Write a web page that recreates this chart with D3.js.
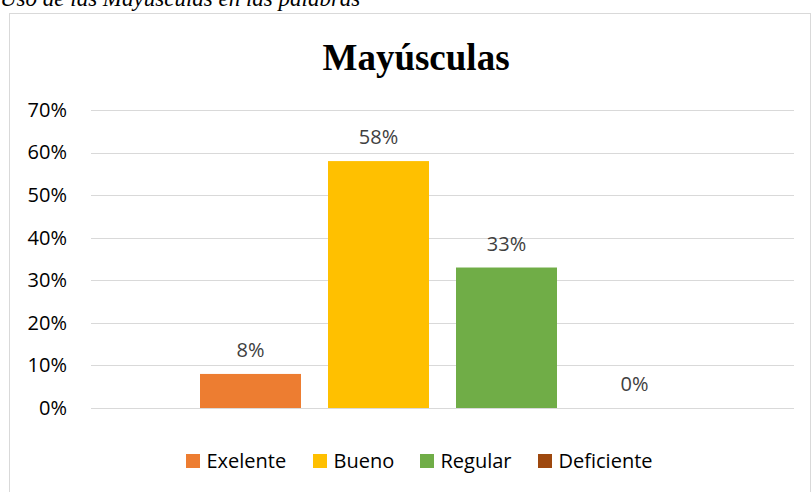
<!DOCTYPE html>
<html><head><meta charset="utf-8">
<script src="https://cdn.jsdelivr.net/npm/d3@7"></script>
<style>body{margin:0;background:#fff;}svg{display:block;}</style>
</head><body>
<script>
const categories = ["Mayúsculas"];
const series = ["Exelente", "Bueno", "Regular", "Deficiente"];
const values = [0.08, 0.58, 0.33, 0.00];
const colors = ["#ED7D31", "#FFC000", "#70AD47", "#9E480E"];
const yTicks = [0, 0.1, 0.2, 0.3, 0.4, 0.5, 0.6, 0.7];
const title = "Mayúsculas";
const caption = "Uso de las Mayúsculas en las palabras";

const W = 811, H = 492;
const svg = d3.select("body").append("svg").attr("width", W).attr("height", H);

svg.append("text").attr("x", 0).attr("y", 6)
  .attr("font-family", "Liberation Serif").attr("font-style", "italic")
  .attr("font-size", 23).attr("fill", "#000").text(caption);

svg.append("rect").attr("x", 9.5).attr("y", 13.5).attr("width", 801).attr("height", 480)
  .attr("fill", "#fff").attr("stroke", "#d9d9d9");

svg.append("text").attr("x", 416).attr("y", 70).attr("text-anchor", "middle")
  .attr("font-family", "Liberation Serif").attr("font-weight", "bold")
  .attr("font-size", 37).attr("fill", "#000").text(title);

const x0 = d3.scaleBand().domain(categories).range([91, 794]).paddingInner(0).paddingOuter(0);
const y = d3.scaleLinear().domain([0, 0.7]).range([408, 110]);
const groupPad = (703 - 485) / 2;
const x1 = d3.scaleBand().domain(series)
  .range([x0(categories[0]) + groupPad, x0(categories[0]) + x0.bandwidth() - groupPad])
  .paddingInner(27 / 128).paddingOuter(0);

const fontSans = "'Open Sans', sans-serif";

const grid = svg.append("g");
yTicks.forEach(t => {
  grid.append("line").attr("x1", 91).attr("x2", 794)
    .attr("y1", Math.round(y(t)) + 0.5).attr("y2", Math.round(y(t)) + 0.5)
    .attr("stroke", "#d9d9d9").attr("stroke-width", 1);
});

const yAxis = d3.axisLeft(y).tickValues(yTicks).tickFormat(d3.format(".0%")).tickSize(0).tickPadding(0);
const ga = svg.append("g").attr("transform", "translate(67,0)").call(yAxis);
ga.select(".domain").remove();
ga.selectAll("text").attr("font-family", fontSans).attr("font-size", 20).attr("fill", "#000");

const bars = svg.append("g");
series.forEach((s, i) => {
  bars.append("rect").attr("x", x1(s)).attr("width", x1.bandwidth())
    .attr("y", y(values[i])).attr("height", y(0) - y(values[i]))
    .attr("fill", colors[i]);
  bars.append("text").attr("x", x1(s) + x1.bandwidth() / 2).attr("y", y(values[i]) - 17)
    .attr("text-anchor", "middle").attr("font-family", fontSans).attr("font-size", 20)
    .attr("fill", "#404040").text(d3.format(".0%")(values[i]));
});

const legendX = [186, 313, 420, 538];
const lg = svg.append("g");
series.forEach((s, i) => {
  lg.append("rect").attr("x", legendX[i]).attr("y", 454).attr("width", 14).attr("height", 14).attr("fill", colors[i]);
  lg.append("text").attr("x", legendX[i] + 20.5).attr("y", 468).attr("font-family", fontSans)
    .attr("font-size", 20).attr("fill", "#000").text(s);
});
</script>
</body></html>
